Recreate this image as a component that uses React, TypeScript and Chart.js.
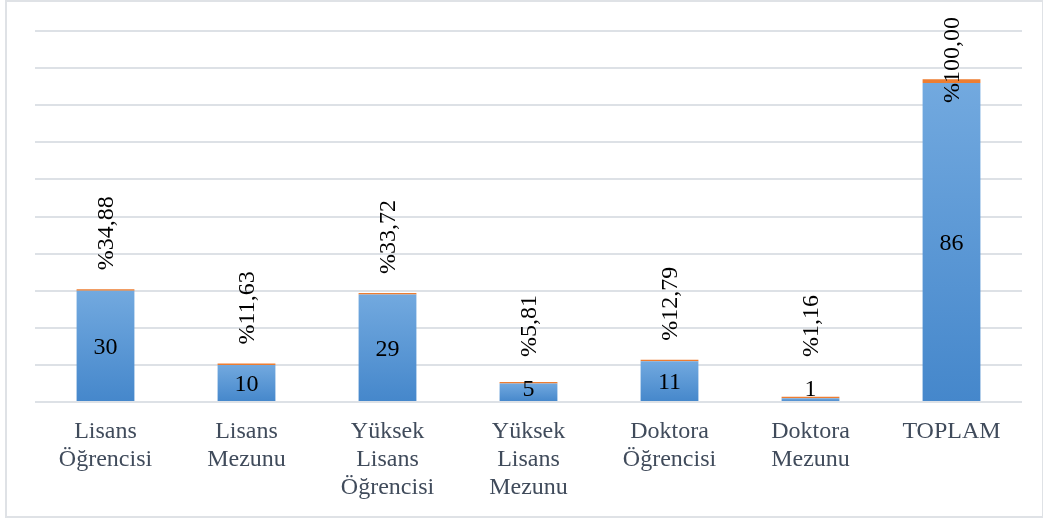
import React, { useEffect, useRef } from 'react';
import { Chart, registerables } from 'chart.js';

Chart.register(...registerables);

const categories: string[][] = [
  ['Lisans', 'Öğrencisi'],
  ['Lisans', 'Mezunu'],
  ['Yüksek', 'Lisans', 'Öğrencisi'],
  ['Yüksek', 'Lisans', 'Mezunu'],
  ['Doktora', 'Öğrencisi'],
  ['Doktora', 'Mezunu'],
  ['TOPLAM'],
];
const counts: number[] = [30, 10, 29, 5, 11, 1, 86];
const shares: number[] = [0.3488, 0.1163, 0.3372, 0.0581, 0.1279, 0.0116, 1.0];
const percentLabels: string[] = ['%34,88', '%11,63', '%33,72', '%5,81', '%12,79', '%1,16', '%100,00'];
const yMax = 100;
const yStep = 10;

const FONT = '"Liberation Serif", "Times New Roman", serif';

const labelPlugin = {
  id: 'barLabels',
  afterDatasetsDraw(chart: any) {
    const ctx = chart.ctx as CanvasRenderingContext2D;
    const area = chart.chartArea;
    const blue = chart.getDatasetMeta(0).data;
    const orange = chart.getDatasetMeta(1).data;
    ctx.save();
    ctx.fillStyle = '#000000';
    ctx.font = `24px ${FONT}`;
    ctx.textAlign = 'center';
    ctx.textBaseline = 'middle';
    const countCenters: number[] = [];
    blue.forEach((bar: any, i: number) => {
      const { x, y, base } = bar.getProps(['x', 'y', 'base'], true);
      let cy = (y + base) / 2 + 2;
      cy = Math.min(cy, area.bottom - 12);
      countCenters[i] = cy;
      ctx.fillText(String(counts[i]), x, cy);
    });
    orange.forEach((bar: any, i: number) => {
      const { x, y } = bar.getProps(['x', 'y'], true);
      const text = percentLabels[i];
      const w = ctx.measureText(text).width;
      let bottom = Math.min(y, countCenters[i] - 14) - 19;
      let top = bottom - w;
      if (top < 17) {
        top = 17;
        bottom = top + w;
      }
      const cy = (top + bottom) / 2;
      ctx.save();
      ctx.translate(x + 1, cy);
      ctx.rotate(-Math.PI / 2);
      ctx.fillText(text, 0, 0);
      ctx.restore();
    });
    ctx.restore();
  },
};

export default function App() {
  const canvasRef = useRef<HTMLCanvasElement | null>(null);

  useEffect(() => {
    const canvas = canvasRef.current;
    if (!canvas) return;
    const chart = new Chart(canvas, {
      type: 'bar',
      data: {
        labels: categories as any,
        datasets: [
          {
            label: 'Sayı',
            data: counts,
            backgroundColor: (c: any) => {
              const ch = c.chart;
              const area = ch.chartArea;
              if (!area || c.type !== 'data' || !ch.scales || !ch.scales.y) return '#5b9bd5';
              const ys = ch.scales.y;
              const top = ys.getPixelForValue(counts[c.dataIndex]);
              const bottom = ys.getPixelForValue(0);
              if (!isFinite(top) || !isFinite(bottom) || top === bottom) return '#5b9bd5';
              const g = ch.ctx.createLinearGradient(0, top, 0, bottom);
              g.addColorStop(0, '#72a9df');
              g.addColorStop(1, '#4587cb');
              return g;
            },
            borderWidth: 0,
            barPercentage: 0.41,
            categoryPercentage: 1,
          },
          {
            label: 'Oran',
            data: shares,
            backgroundColor: '#ed7d31',
            borderWidth: 0,
            minBarLength: 1.5,
            barPercentage: 0.41,
            categoryPercentage: 1,
          },
        ],
      },
      options: {
        responsive: false,
        animation: false,
        layout: { padding: { top: 31, left: 35, right: 21, bottom: 0 } },
        plugins: {
          legend: { display: false },
          tooltip: { enabled: false },
          title: { display: false },
        },
        scales: {
          x: {
            stacked: true,
            grid: { display: false, drawTicks: false },
            border: { display: false },
            ticks: {
              color: '#404b5b',
              padding: 16,
              maxRotation: 0,
              autoSkip: false,
              font: { family: FONT, size: 24, lineHeight: '28px' as any },
            },
            afterFit: (scale: any) => {
              scale.height = 116;
            },
          },
          y: {
            stacked: true,
            min: 0,
            max: yMax,
            ticks: { display: false, stepSize: yStep },
            grid: { color: '#dde1e6', lineWidth: 2, drawTicks: false },
            border: { display: false },
          },
        },
      },
      plugins: [labelPlugin],
    });
    return () => chart.destroy();
  }, []);

  return (
    <div style={{ position: 'fixed', left: 0, top: 0, width: 1043, height: 518, background: '#ffffff' }}>
      <canvas ref={canvasRef} width={1043} height={518} style={{ position: 'absolute', left: 0, top: 0 }} />
      <div
        style={{
          position: 'absolute',
          left: 5,
          top: 0,
          width: 1035,
          height: 514,
          border: '2px solid #dfe2e6',
          pointerEvents: 'none',
        }}
      />
    </div>
  );
}
